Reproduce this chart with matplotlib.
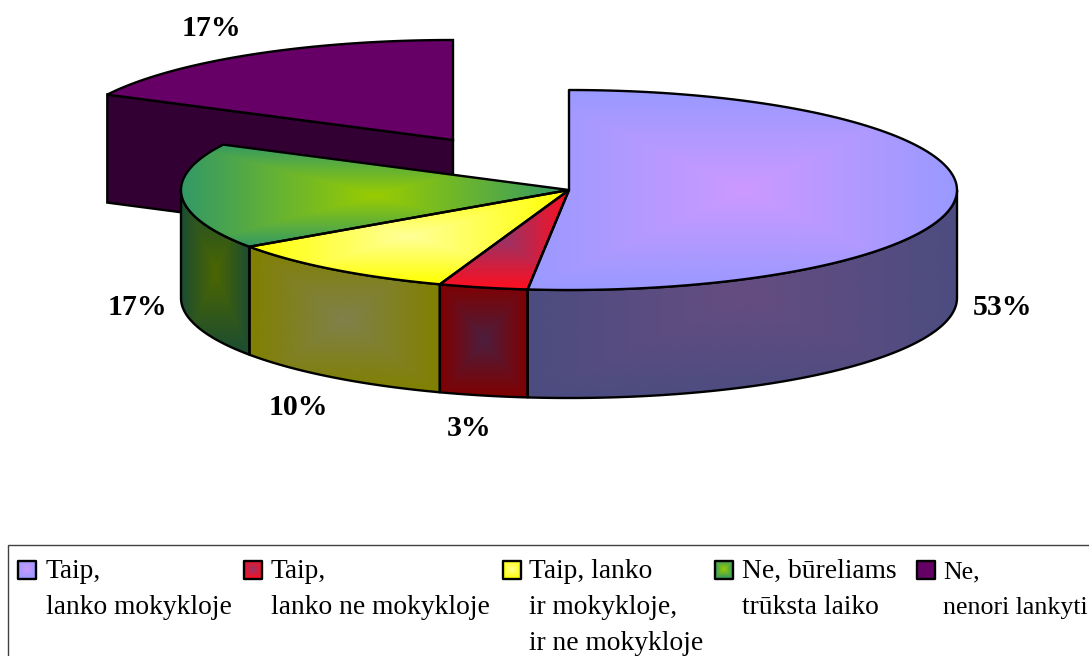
import numpy as np
import matplotlib
matplotlib.use('Agg')
import matplotlib.pyplot as plt
from matplotlib.colors import to_rgb
from matplotlib.patches import Polygon, Rectangle

# slice sizes, printed labels are separate
shares = [51.7, 3.7, 10.0, 17.1, 17.5]
pct_labels = ['53%', '3%', '10%', '17%', '17%']
legend_lines = [
    ['Taip,', 'lanko mokykloje'],
    ['Taip,', 'lanko ne mokykloje'],
    ['Taip, lanko', 'ir mokykloje,', 'ir ne mokykloje'],
    ['Ne, būreliams', 'trūksta laiko'],
    ['Ne,', 'nenori lankyti'],
]

top_edge = ['#9999FF', '#FF0F1F', '#FFFF00', '#339966', '#660066']
top_mid = ['#CC99FF', '#993366', '#FFFF99', '#99CC00', '#660066']
side_edge = ['#4C4C80', '#800000', '#808000', '#1A4C33', '#330033']
side_mid = ['#664C80', '#4C1F3F', '#80804C', '#4C6600', '#330033']

# layout in pixels of the output image
W, H = 1089, 656
cx, cy = 569, 190
rx, ry = 388, 100
depth = 108
explode = (-116, -50)
label_base = [(1002, 315), (469, 436), (298, 415), (137, 315), (211, 36)]
swatch_x = [18, 244, 503, 714.5, 916.5]
text_x = [46, 271, 529, 742, 943]
text_size = [19.8, 19.8, 19.8, 19.8, 18.6]  # last column has to fit before the right edge


def rim(t0, t1, off=(0, 0), n=120):
    # t is the fraction of the way round, clockwise from 12 o'clock
    t = np.linspace(t0, t1, n)
    a = 2 * np.pi * t
    return np.column_stack([cx + off[0] + rx * np.sin(a), cy + off[1] - ry * np.cos(a)])


def grad_fill(ax, pts, edge, mid, lw=1.7):
    # rectangular path gradient over the bounding box, clipped to the shape
    x0, y0 = pts.min(axis=0)
    x1, y1 = pts.max(axis=0)
    xs = np.linspace(-1, 1, 300)
    ys = np.linspace(-1, 1, 300)
    X, Y = np.meshgrid(xs, ys)
    v = np.maximum(np.abs(X), np.abs(Y))[..., None]
    img = np.array(to_rgb(mid)) * (1 - v) + np.array(to_rgb(edge)) * v
    poly = Polygon(pts, closed=True, fc='none', ec='black', lw=lw, joinstyle='round', zorder=3)
    ax.add_patch(poly)
    im = ax.imshow(img, extent=(x0, x1, y1, y0), aspect='auto', zorder=2, interpolation='bilinear')
    im.set_clip_path(poly)
    return im, poly


plt.rcParams['font.family'] = ['Liberation Serif', 'DejaVu Serif']
fig = plt.figure(figsize=(W / 100, H / 100), dpi=100)
ax = fig.add_axes([0, 0, 1, 1])

bounds = np.concatenate([[0], np.cumsum(shares)]) / sum(shares)

# exploded slice, wall first and then its top
t0, t1 = bounds[4], bounds[5]
top = rim(t0, t1, explode)
apex = np.array([[cx + explode[0], cy + explode[1]]])
wall = np.vstack([top[0], apex, apex + [0, depth], top[0] + [0, depth]])
ax.add_patch(Polygon(wall, fc=side_edge[4], ec='black', lw=1.7, zorder=1))
ax.add_patch(Polygon(np.vstack([apex, top]), fc=top_edge[4], ec='black', lw=1.7, zorder=1.5))

# outer walls of the other slices, only the front half shows
for i in range(4):
    a, b = max(bounds[i], 0.25), min(bounds[i + 1], 0.75)
    if b <= a:
        continue
    arc = rim(a, b)
    pts = np.vstack([arc, arc[::-1] + [0, depth]])
    grad_fill(ax, pts, side_edge[i], side_mid[i])

# top faces
for i in range(4):
    pts = np.vstack([[[cx, cy]], rim(bounds[i], bounds[i + 1])])
    im, poly = grad_fill(ax, pts, top_edge[i], top_mid[i])
    im.set_zorder(4)
    poly.set_zorder(5)

for s, p in zip(pct_labels, label_base):
    ax.text(p[0], p[1], s, fontsize=21.5, fontweight='bold', ha='center', va='baseline', zorder=6)

# legend box runs off the right and bottom of the picture
ax.add_patch(Rectangle((7.5, 544.5), W + 20, 200, fc='white', ec='#404040', lw=1, zorder=6))
for i, lines in enumerate(legend_lines):
    x = swatch_x[i]
    pts = np.array([[x, 561], [x + 18, 561], [x + 18, 578.5], [x, 578.5]])
    im, poly = grad_fill(ax, pts, top_edge[i], top_mid[i])
    im.set_zorder(7)
    poly.set_zorder(8)
    for j, line in enumerate(lines):
        ax.text(text_x[i], 578 + j * 36, line, fontsize=text_size[i], va='baseline', ha='left', zorder=8)

ax.set_xlim(0, W)
ax.set_ylim(H, 0)
ax.axis('off')
fig.savefig('out.png', dpi=100)
